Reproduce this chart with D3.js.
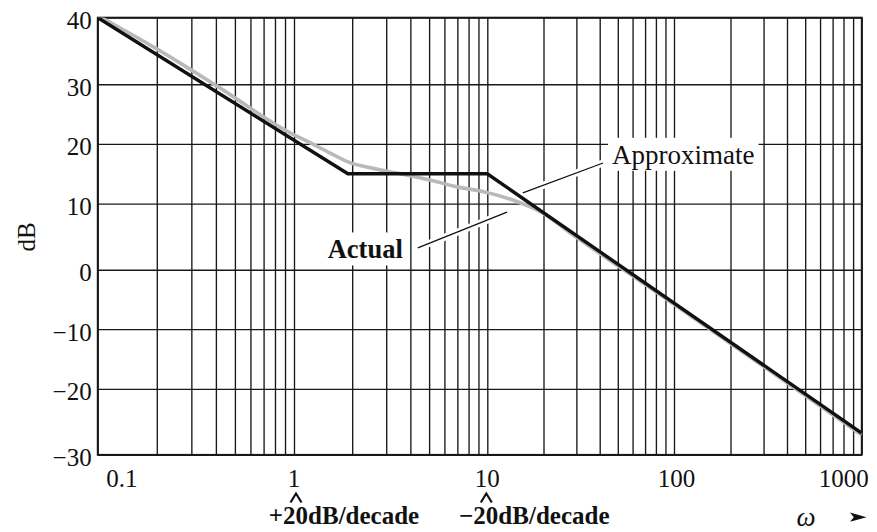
<!DOCTYPE html>
<html><head><meta charset="utf-8">
<script src="https://cdn.jsdelivr.net/npm/d3@7"></script>
<style>body{margin:0;background:#fff}svg{display:block}</style>
</head><body>
<svg id="c" width="877" height="532"></svg>
<script>
// ---------- data ----------
const xDecades = [0.1, 1, 10, 100, 1000];
const xTickLabels = ["0.1", "1", "10", "100", "1000"];
const yTicks = [40, 30, 20, 10, 0, -10, -20, -30];
const yTickLabels = ["40", "30", "20", "10", "0", "\u221210", "\u221220", "\u221230"];

// asymptotic (approximate) magnitude, dB
const approxOmega = [0.1, 1.9, 10, 1000];
const approxDb    = [40, 15, 15, -26.7];

// actual magnitude, dB
const actualOmega = [0.1, 0.2, 0.4, 1.0, 1.21, 1.53, 1.93, 2.57, 3.82, 5.04, 6.97, 9.55, 11.2, 14.4, 19.2, 30, 50, 100, 200, 500, 1000];
const actualDb    = [40.3, 35.3, 29.8, 21.5, 20.2, 18.5, 16.9, 15.9, 14.8, 13.95, 12.8, 12.0, 11.45, 10.35, 8.8, 4.9, 0.6, -5.8, -12.4, -21.0, -27.0];

// annotation pointers (omega, dB)
const approxPointer = [[15.5, 11.8], [41.7, 16.8]];
const actualPointer = [[4.37, 3.3], [12.75, 8.7]];
const slopeMarks = [{omega: 1, text: "+20dB/decade"}, {omega: 10, text: "\u221220dB/decade"}];

// ---------- layout ----------
const pL = 97.7, pR = 861.7, pT = 17.6, pB = 454.8;
const serif = "'Liberation Serif','Times New Roman',Times,serif";
const svg = d3.select("#c");

// log axis calibrated per decade, linear dB axis calibrated per 10 dB
const x = d3.scaleLog().domain(xDecades).range([pL, 294, 487.3, 674, pR]);
const y = d3.scaleLinear().domain(yTicks).range([pT, 84.2, 143.9, 203.6, 269.8, 329.1, 388.9, pB]);

const gridX = [];
xDecades.slice(0, -1).forEach(d => { for (let k = 1; k < 10; k++) gridX.push(+(d * k).toPrecision(3)); });
gridX.push(xDecades[xDecades.length - 1]);

const gridColor = "#181818";
svg.append("g").attr("transform", `translate(0,${pB})`)
  .call(d3.axisBottom(x).tickValues(gridX).tickSize(-(pB - pT)).tickFormat(""))
  .call(g => g.select(".domain").remove())
  .call(g => g.selectAll(".tick line").attr("stroke", gridColor).attr("stroke-width", 1.35));

svg.append("g").attr("transform", `translate(${pL},0)`)
  .call(d3.axisLeft(y).tickValues(yTicks).tickSize(-(pR - pL)).tickFormat(""))
  .call(g => g.select(".domain").remove())
  .call(g => g.selectAll(".tick line").attr("stroke", gridColor).attr("stroke-width", 1.35));

svg.append("rect").attr("x", pL).attr("y", pT).attr("width", pR - pL).attr("height", pB - pT)
  .attr("fill", "none").attr("stroke", gridColor).attr("stroke-width", 1.8);

// tick labels
svg.append("g").selectAll("text").data(yTicks).join("text")
  .attr("x", pL - 6).attr("y", d => y(d) + 11.5)
  .attr("text-anchor", "end").attr("font-family", serif).attr("font-size", 25).attr("fill", "#111")
  .text((d, i) => yTickLabels[i]);

svg.append("g").selectAll("text").data(xDecades).join("text")
  .attr("x", (d, i) => i === 0 ? x(d) + 8.5 : (i === xDecades.length - 1 ? x(d) + 7 : x(d) + (i === 3 ? 2.5 : 0)))
  .attr("y", pB + 32.5)
  .attr("text-anchor", (d, i) => i === 0 ? "start" : (i === xDecades.length - 1 ? "end" : "middle"))
  .attr("font-family", serif).attr("font-size", 25).attr("fill", "#111")
  .text((d, i) => xTickLabels[i]);

// axis titles
svg.append("text").attr("transform", `translate(34.5,237) rotate(-90)`)
  .attr("text-anchor", "middle").attr("font-family", serif).attr("font-size", 25).attr("fill", "#111").text("dB");

svg.append("text").attr("x", 806).attr("y", 526).attr("text-anchor", "middle")
  .attr("font-family", serif).attr("font-style", "italic").attr("font-size", 27).attr("fill", "#111").text("\u03c9");
svg.append("path").attr("d", "M850,512.5 L866.5,517.2 L850,521.8 L853.8,517.2 Z").attr("fill", "#111");

// slope marks
slopeMarks.forEach((m, i) => {
  const cx = x(m.omega) + (i === 0 ? 2 : -1);
  svg.append("path").attr("d", `M${cx - 5.5},502.5 L${cx},493.5 L${cx + 5.5},502.5`)
    .attr("fill", "none").attr("stroke", "#111").attr("stroke-width", 2.2);
  svg.append("text").attr("x", x(m.omega) + (i === 0 ? 50 : 47)).attr("y", 523.5).attr("text-anchor", "middle")
    .attr("font-family", serif).attr("font-weight", "bold").attr("font-size", 25).attr("fill", "#111").text(m.text);
});

// annotation labels with white knock-out boxes
const annoLayer = svg.append("g");
const ptr = p => p.map(d => [x(d[0]), y(d[1])]);
const aP = ptr(approxPointer), tP = ptr(actualPointer);

const approxText = svg.append("text").attr("x", aP[1][0] + 9).attr("y", aP[1][1] + 0.8)
  .attr("font-family", serif).attr("font-size", 27).attr("fill", "#111").text("Approximate");
const actualText = svg.append("text").attr("x", tP[0][0] - 15).attr("y", tP[0][1] + 10.5).attr("text-anchor", "end")
  .attr("font-family", serif).attr("font-weight", "bold").attr("font-size", 26.5).attr("fill", "#111").text("Actual");

[approxText, actualText].forEach(t => {
  const b = t.node().getBBox();
  annoLayer.append("rect").attr("x", b.x - 4).attr("y", b.y - 2).attr("width", b.width + 8).attr("height", b.height + 3).attr("fill", "#fff");
});
[aP, tP].forEach(p => {
  annoLayer.append("line").attr("x1", p[0][0]).attr("y1", p[0][1]).attr("x2", p[1][0]).attr("y2", p[1][1])
    .attr("stroke", "#fff").attr("stroke-width", 7);
});

// curves
svg.append("clipPath").attr("id", "clip").append("rect")
  .attr("x", pL).attr("y", pT).attr("width", pR - pL).attr("height", pB - pT);
const curves = svg.append("g").attr("clip-path", "url(#clip)");

const actualPts = actualOmega.map((w, i) => [w, actualDb[i]]);
const approxPts = approxOmega.map((w, i) => [w, approxDb[i]]);

curves.append("path").datum(actualPts)
  .attr("d", d3.line().x(d => x(d[0])).y(d => y(d[1])).curve(d3.curveMonotoneX))
  .attr("fill", "none").attr("stroke", "#b9b9b9").attr("stroke-width", 3.6).attr("stroke-linejoin", "round");
curves.append("path").datum(approxPts)
  .attr("d", d3.line().x(d => x(d[0])).y(d => y(d[1])))
  .attr("fill", "none").attr("stroke", "#111").attr("stroke-width", 3.4).attr("stroke-linejoin", "miter");

// pointer lines
[aP, tP].forEach(p => {
  svg.append("line").attr("x1", p[0][0]).attr("y1", p[0][1]).attr("x2", p[1][0]).attr("y2", p[1][1])
    .attr("stroke", "#111").attr("stroke-width", 1.3);
});
approxText.raise(); actualText.raise();
</script>
</body></html>
